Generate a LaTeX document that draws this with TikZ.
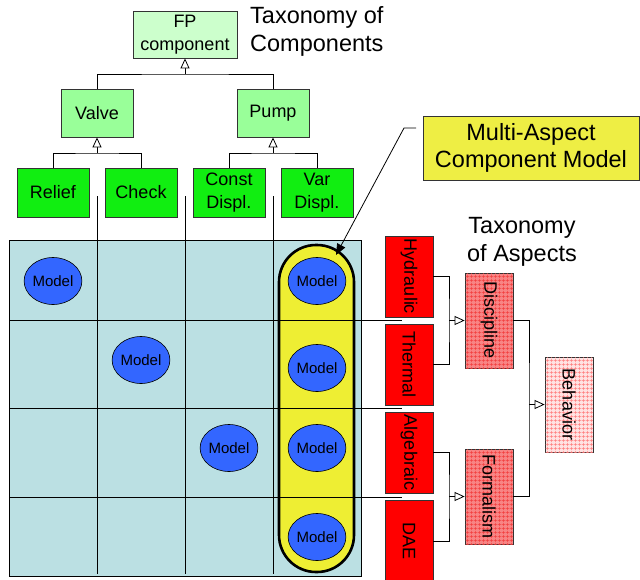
\documentclass[tikz,border=0pt]{standalone}
\usepackage{fontspec}
\setmainfont{Liberation Sans}
\usetikzlibrary{arrows.meta,patterns.meta,shapes.geometric}

\definecolor{rootgreen}{HTML}{CCFFCC}
\definecolor{midgreen}{HTML}{99FF99}
\definecolor{leafgreen}{HTML}{11EE11}
\definecolor{gridteal}{HTML}{BBE0E3}
\definecolor{capyellow}{HTML}{EEEE33}
\definecolor{noteyellow}{HTML}{EEEE44}
\definecolor{modelblue}{HTML}{3366FF}
\definecolor{aspectred}{HTML}{FF0000}
\definecolor{catpink}{HTML}{F88484}
\definecolor{catline}{HTML}{F23C3C}
\definecolor{toppink}{HTML}{FFE2E2}
\definecolor{topline}{HTML}{FF7A7A}
\definecolor{edge}{HTML}{333333}

\begin{document}
\begin{tikzpicture}[x=1pt,y=-1pt,
  bigtext/.style={font=\fontsize{23.5}{27.5}\selectfont, inner sep=0, align=center},
  boxtext/.style={font=\fontsize{18}{23.5}\selectfont, align=center, inner sep=0},
  comp/.style={boxtext, draw=edge, line width=0.8pt, minimum width=72pt, minimum height=48pt},
  rootbox/.style={comp, fill=rootgreen, minimum width=104pt, minimum height=47pt},
  midbox/.style={comp, fill=midgreen},
  leafbox/.style={comp, fill=leafgreen, minimum height=49pt},
  model/.style={ellipse, draw=black, line width=0.6pt, fill=modelblue, minimum width=56pt,
    minimum height=47pt, inner sep=0, font=\fontsize{15}{18}\selectfont},
  aspect/.style={boxtext, draw=edge, line width=0.8pt, fill=aspectred, minimum width=48pt, minimum height=81pt},
  category/.style={boxtext, draw=edge, line width=0.8pt, fill=catpink, minimum width=48pt, minimum height=95pt,
    postaction={pattern={Hatch[angle=0,distance=4pt,line width=0.8pt]}, pattern color=catline}},
  topcat/.style={boxtext, draw=edge, line width=0.8pt, fill=toppink, minimum width=48pt, minimum height=95pt,
    postaction={pattern={Hatch[angle=0,distance=4pt,line width=0.8pt]}, pattern color=topline}},
  wire/.style={draw=black, line width=0.8pt},
  isa/.style={wire, -{Triangle[open, length=10pt, width=9pt, fill=white]}},
  gridline/.style={draw=black, line width=0.8pt}
]
\useasboundingbox (0,0) rectangle (640,579);

% ---- component taxonomy ----
\node[rootbox] (fp) at (185,34.5) {FP\\component};
\node[midbox] (valve) at (97,113) {Valve};
\node[midbox] (pump) at (273,113) {Pump};
\node[leafbox] (relief) at (53,192.5) {Relief};
\node[leafbox] (check) at (141,192.5) {Check};
\node[leafbox] (const) at (229,192.5) {Const\\Displ.};
\node[leafbox] (var) at (317,192.5) {Var\\Displ.};
\node[bigtext, anchor=west, align=left] (taxc) at (250,31.5) {Taxonomy of\\Components};

\coordinate (fpj) at (185,74);
\coordinate (valvej) at (97,153);
\coordinate (pumpj) at (273,153);
\draw[wire] (valve.north) |- (fpj) -| (pump.north);
\draw[isa] (fpj) -- (fp.south);
\draw[wire] (relief.north) |- (valvej) -| (check.north);
\draw[isa] (valvej) -- (valve.south);
\draw[wire] (const.north) |- (pumpj) -| (var.north);
\draw[isa] (pumpj) -- (pump.south);

% ---- component / aspect matrix ----
\fill[gridteal] (9,240) rectangle (361,576);
\node[draw=black, line width=2.6pt, fill=capyellow, rounded corners=37pt,
  minimum width=75pt, minimum height=327pt, inner sep=0] (mam) at (316.5,408.5) {};
\draw[gridline] (9,240) rectangle (361,576);
\foreach \x in {97,185,273} \draw[gridline] (\x,196) -- (\x,574);
\foreach \y in {320,408,497} \draw[gridline] (9,\y) -- (402,\y);

\node[model] (m1) at (53,281) {Model};
\node[model] (m2) at (141,360) {Model};
\node[model] (m3) at (229,448) {Model};
\node[model] (m4a) at (317,281) {Model};
\node[model] (m4b) at (317,368) {Model};
\node[model] (m4c) at (317,448) {Model};
\node[model] (m4d) at (317,537) {Model};

% ---- multi-aspect callout ----
\node[bigtext, draw=edge, line width=0.8pt, fill=noteyellow, minimum width=216pt, minimum height=64pt]
  (note) at (531,148) {Multi-Aspect\\Component Model};
\coordinate (leadA) at (416,128);
\coordinate (leadB) at (404,128);
\coordinate (leadTip) at (336,255);
\draw[wire, -{Triangle[length=11pt, width=9pt]}] (leadA) -- (leadB) -- (leadTip);

% ---- aspect taxonomy ----
\node[bigtext] (taxa) at (522,242) {Taxonomy\\of Aspects};
\node[aspect] (hyd) at (409,276.5) {\rotatebox{-90}{Hydraulic}};
\node[aspect] (therm) at (409,364.5) {\rotatebox{-90}{Thermal}};
\node[aspect] (alg) at (409,452.5) {\rotatebox{-90}{Algebraic}};
\node[aspect, minimum height=82pt] (dae) at (409,541) {\rotatebox{-90}{DAE}};
\node[category] (disc) at (489,320.5) {\rotatebox{-90}{Discipline}};
\node[category] (form) at (489,496.5) {\rotatebox{-90}{Formalism}};
\node[topcat] (beh) at (569,404.5) {\rotatebox{-90}{Behavior}};

\coordinate (dj) at (449,320.5);
\coordinate (fj) at (449,496.5);
\coordinate (bj) at (529,404.5);
\draw[wire] (hyd.east) -| (dj) |- (therm.east);
\draw[isa] (dj) -- (disc.west);
\draw[wire] (alg.east) -| (fj) |- (dae.east);
\draw[isa] (fj) -- (form.west);
\draw[wire] (disc.east) -| (bj) |- (form.east);
\draw[isa] (bj) -- (beh.west);
\end{tikzpicture}
\end{document}
